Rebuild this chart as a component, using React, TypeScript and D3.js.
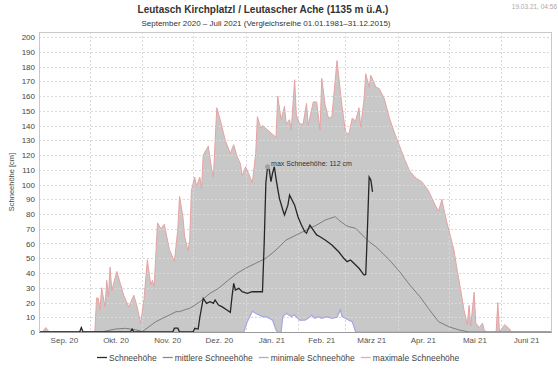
import React, { useRef, useEffect } from 'react';
import * as d3 from 'd3';

// values (cm)
const maxSnow: [string, number][] = [
  ["2020-09-01",0],["2020-09-03",0],["2020-09-05",3],["2020-09-07",0],["2020-10-04",0],["2020-10-05",23],["2020-10-06",23],
  ["2020-10-07",15],["2020-10-08",30],["2020-10-10",17],["2020-10-11",35],["2020-10-12",24],["2020-10-13",44],["2020-10-14",28],
  ["2020-10-16",37],["2020-10-17",41],["2020-10-19",33],["2020-10-21",25],["2020-10-24",17],["2020-10-27",25],["2020-10-29",17],
  ["2020-10-31",6],["2020-11-02",22],["2020-11-04",49],["2020-11-06",32],["2020-11-07",35],["2020-11-08",31],["2020-11-10",74],
  ["2020-11-12",70],["2020-11-14",73],["2020-11-17",56],["2020-11-20",48],["2020-11-22",70],["2020-11-23",92],["2020-11-25",78],
  ["2020-11-26",65],["2020-11-28",55],["2020-11-29",62],["2020-11-30",96],["2020-12-02",105],["2020-12-03",99],["2020-12-05",105],
  ["2020-12-06",97],["2020-12-07",120],["2020-12-09",124],["2020-12-10",126],["2020-12-12",110],["2020-12-13",105],["2020-12-15",152],
  ["2020-12-17",144],["2020-12-20",130],["2020-12-23",121],["2020-12-25",127],["2020-12-27",119],["2020-12-29",114],["2020-12-30",106],
  ["2021-01-01",112],["2021-01-03",107],["2021-01-05",101],["2021-01-07",121],["2021-01-08",146],["2021-01-10",138],["2021-01-11",140],
  ["2021-01-13",138],["2021-01-16",135],["2021-01-19",132],["2021-01-20",160],["2021-01-22",144],["2021-01-24",153],["2021-01-25",141],
  ["2021-01-27",144],["2021-01-28",137],["2021-01-30",171],["2021-01-31",147],["2021-02-02",141],["2021-02-04",141],["2021-02-06",155],
  ["2021-02-07",140],["2021-02-10",156],["2021-02-12",156],["2021-02-14",137],["2021-02-15",172],["2021-02-17",154],["2021-02-19",145],
  ["2021-02-21",146],["2021-02-24",184],["2021-02-27",153],["2021-03-01",136],["2021-03-03",134],["2021-03-05",145],["2021-03-07",143],
  ["2021-03-09",152],["2021-03-10",139],["2021-03-12",158],["2021-03-13",175],["2021-03-15",166],["2021-03-16",174],["2021-03-19",166],
  ["2021-03-21",165],["2021-03-24",158],["2021-03-27",145],["2021-03-30",135],["2021-04-03",123],["2021-04-05",117],["2021-04-08",109],
  ["2021-04-12",104],["2021-04-15",102],["2021-04-19",96],["2021-04-23",86],["2021-04-25",82],["2021-04-27",90],["2021-04-28",84],
  ["2021-04-30",74],["2021-05-02",65],["2021-05-04",56],["2021-05-06",42],["2021-05-08",29],["2021-05-10",15],["2021-05-12",5],
  ["2021-05-13",18],["2021-05-14",4],["2021-05-16",27],["2021-05-17",6],["2021-05-19",3],["2021-05-21",6],["2021-05-22",1],
  ["2021-05-24",0],["2021-05-29",0],["2021-05-30",20],["2021-05-31",0],["2021-06-03",5],["2021-06-04",4],["2021-06-06",2],
  ["2021-06-07",0],["2021-07-01",0]
];

const minSnow: [string, number][] = [
  ["2020-09-01",0],["2020-12-31",0],["2021-01-02",7],["2021-01-05",14],["2021-01-07",12.7],["2021-01-09",11.5],["2021-01-11",10.4],
  ["2021-01-13",10.4],["2021-01-15",9.3],["2021-01-17",8],["2021-01-19",1.4],["2021-01-20",0],["2021-01-22",0],["2021-01-23",10.4],
  ["2021-01-25",12.7],["2021-01-28",10.4],["2021-01-30",11.5],["2021-02-02",8],["2021-02-05",8],["2021-02-07",9.3],["2021-02-09",11.5],
  ["2021-02-11",9.3],["2021-02-13",10.4],["2021-02-15",9.3],["2021-02-18",10.4],["2021-02-21",9.3],["2021-02-24",10],["2021-02-26",15],
  ["2021-02-27",10.4],["2021-03-01",9.3],["2021-03-03",8],["2021-03-05",7],["2021-03-07",0],["2021-07-01",0]
];

const meanSnow: [string, number][] = [
  ["2020-09-01",0],["2020-10-08",0],["2020-10-12",1],["2020-10-16",2],["2020-10-22",2.5],["2020-10-28",1.5],["2020-11-01",0.3],
  ["2020-11-05",3.6],["2020-11-09",7],["2020-11-13",9.3],["2020-11-17",11.5],["2020-11-21",13.8],["2020-11-23",13.8],["2020-11-27",15.4],
  ["2020-11-29",16],["2020-12-05",20.5],["2020-12-11",26.2],["2020-12-16",29.6],["2020-12-22",35.3],["2020-12-27",39.8],["2021-01-01",43.2],
  ["2021-01-07",46.6],["2021-01-13",50],["2021-01-19",55.6],["2021-01-25",62.4],["2021-01-31",65.8],["2021-02-06",69.2],["2021-02-12",72.5],
  ["2021-02-17",75.9],["2021-02-23",78.2],["2021-02-25",75.9],["2021-03-01",72.5],["2021-03-03",71.4],["2021-03-07",70.3],["2021-03-09",68],
  ["2021-03-13",63.5],["2021-03-15",61.2],["2021-03-19",57.8],["2021-03-21",55.6],["2021-03-27",48.8],["2021-04-02",40.9],["2021-04-08",31.9],
  ["2021-04-14",23.9],["2021-04-19",16],["2021-04-25",7],["2021-05-01",3.6],["2021-05-07",1.4],["2021-05-13",0],["2021-07-01",0]
];

const snow: [string, number][] = [
  ["2020-09-01",0],["2020-09-25",0],["2020-09-26",3],["2020-09-27",0],["2020-10-25",0],["2020-10-26",2],["2020-10-27",0],
  ["2020-11-19",0],["2020-11-20",2.6],["2020-11-22",2.6],["2020-11-23",0],["2020-12-01",0],["2020-12-02",2.5],["2020-12-04",2],
  ["2020-12-05",10],["2020-12-07",22.8],["2020-12-09",19.4],["2020-12-11",20.5],["2020-12-13",19.4],["2020-12-14",21.7],["2020-12-16",18.3],
  ["2020-12-18",17.2],["2020-12-21",14.9],["2020-12-23",13.3],["2020-12-24",23.9],["2020-12-25",33],["2020-12-26",28.5],["2020-12-28",29.6],
  ["2020-12-30",27.3],["2021-01-02",26.2],["2021-01-05",27.3],["2021-01-08",27.3],["2021-01-11",27.3],["2021-01-12",60],["2021-01-13",101],
  ["2021-01-14",112],["2021-01-15",110],["2021-01-16",102],["2021-01-17",108],["2021-01-18",112],["2021-01-19",104],["2021-01-20",97],
  ["2021-01-21",90.6],["2021-01-23",82.7],["2021-01-24",79.3],["2021-01-26",86],["2021-01-27",92.9],["2021-01-30",86],["2021-02-01",78],
  ["2021-02-03",72.5],["2021-02-05",68],["2021-02-06",67],["2021-02-08",72.5],["2021-02-10",69],["2021-02-12",65.8],["2021-02-14",64.6],
  ["2021-02-17",62.4],["2021-02-21",59],["2021-02-25",54.4],["2021-02-28",50],["2021-03-02",47.7],["2021-03-04",48.8],["2021-03-06",46.6],
  ["2021-03-09",43.2],["2021-03-12",38.6],["2021-03-13",39],["2021-03-14",70],["2021-03-15",105],["2021-03-16",103],["2021-03-17",95]
];

const monthTicks = ["2020-09-01","2020-10-01","2020-11-01","2020-12-01","2021-01-01","2021-02-01","2021-03-01","2021-04-01","2021-05-01","2021-06-01","2021-07-01"];
const monthLabels = ["Sep. 20","Okt. 20","Nov. 20","Dez. 20","Jän. 21","Feb. 21","März 21","Apr. 21","Mai 21","Juni 21"];
const yTicks = d3.range(0, 201, 10);

const legendItems = [
  { label: "Schneehöhe", color: "#2b2b2b" },
  { label: "mittlere Schneehöhe", color: "#8a8a8a" },
  { label: "minimale Schneehöhe", color: "#a9a9e6" },
  { label: "maximale Schneehöhe", color: "#eaaaaa" },
];

const FONT = "'Liberation Sans', Arial, sans-serif";

const App = () => {
  const ref = useRef<SVGSVGElement>(null);

  useEffect(() => {
    if (!ref.current) return;
    const W = 558, H = 369;
    const left = 39, right = 552, top = 32, bottom = 332;
    const parse = d3.timeParse("%Y-%m-%d");

    const svg = d3.select(ref.current);
    svg.selectAll("*").remove();

    const x = d3.scaleTime()
      .domain([parse("2020-09-01")!, parse("2021-07-01")!])
      .range([left, right]);
    const y = d3.scaleLinear().domain([0, 200]).range([bottom, 37]);

    const toPts = (arr: [string, number][]) => arr.map(d => ({ date: parse(d[0])!, v: d[1] }));
    const maxP = toPts(maxSnow), minP = toPts(minSnow), meanP = toPts(meanSnow), snowP = toPts(snow);

    const area = d3.area<{ date: Date; v: number }>().x(d => x(d.date)).y0(y(0)).y1(d => y(d.v));
    const line = d3.line<{ date: Date; v: number }>().x(d => x(d.date)).y(d => y(d.v));

    svg.append("rect").attr("width", W).attr("height", H).attr("fill", "#fff");

    svg.append("path").attr("d", area(maxP)).attr("fill", "#c8c8c8");
    svg.append("path").attr("d", area(minP)).attr("fill", "#fff");

    // grid
    const grid = svg.append("g").attr("stroke", "#d9d9d9").attr("stroke-width", 1).attr("stroke-dasharray", "2,2");
    yTicks.forEach(t => {
      grid.append("line").attr("x1", left).attr("x2", right)
        .attr("y1", Math.round(y(t)) + 0.5).attr("y2", Math.round(y(t)) + 0.5);
    });
    monthTicks.slice(1, -1).forEach(m => {
      const xx = Math.round(x(parse(m)!)) + 0.5;
      grid.append("line").attr("x1", xx).attr("x2", xx).attr("y1", top).attr("y2", bottom);
    });

    svg.append("path").attr("d", line(maxP)).attr("fill", "none").attr("stroke", "#e6a3a3").attr("stroke-width", 1);
    svg.append("path").attr("d", line(minP)).attr("fill", "none").attr("stroke", "#a5a5e3").attr("stroke-width", 1.2);
    svg.append("path").attr("d", line(meanP)).attr("fill", "none").attr("stroke", "#7d7d7d").attr("stroke-width", 1);
    svg.append("path").attr("d", line(snowP)).attr("fill", "none").attr("stroke", "#262626").attr("stroke-width", 1.3);

    // frame
    svg.append("rect").attr("x", left + 0.5).attr("y", top + 0.5)
      .attr("width", right - left - 1).attr("height", bottom - top)
      .attr("fill", "none").attr("stroke", "#c8c8c8");
    svg.append("line").attr("x1", left).attr("x2", right).attr("y1", bottom + 0.5).attr("y2", bottom + 0.5)
      .attr("stroke", "#9a9a9a");

    // max annotation
    const peak = snowP.reduce((a, b) => (b.v > a.v ? b : a));
    svg.append("circle").attr("cx", x(peak.date)).attr("cy", y(peak.v)).attr("r", 2.5).attr("fill", "#a0a0a0");
    svg.append("text").attr("x", x(peak.date) + 3.5).attr("y", y(peak.v) - 0.5)
      .attr("font-family", FONT).attr("font-size", 7).attr("fill", "#333")
      .text(`max Schneehöhe: ${peak.v} cm`);

    // y axis labels
    const yl = svg.append("g").attr("font-family", FONT).attr("font-size", 8).attr("fill", "#444").attr("text-anchor", "end");
    yTicks.forEach(t => {
      yl.append("text").attr("x", 35).attr("y", y(t) + 3).text(t);
    });
    svg.append("text").attr("transform", `translate(14,${(top + bottom) / 2}) rotate(-90)`)
      .attr("text-anchor", "middle").attr("font-family", FONT).attr("font-size", 7.5).attr("fill", "#444")
      .text("Schneehöhe [cm]");

    // x labels centred in each month
    const xl = svg.append("g").attr("font-family", FONT).attr("font-size", 8).attr("fill", "#555").attr("text-anchor", "middle");
    monthLabels.forEach((lab, i) => {
      const a = x(parse(monthTicks[i])!), b = x(parse(monthTicks[i + 1])!);
      xl.append("text").attr("x", (a + b) / 2).attr("y", 343).text(lab);
    });

    // titles
    svg.append("text").attr("x", 263).attr("y", 13).attr("text-anchor", "middle")
      .attr("font-family", FONT).attr("font-weight", "bold").attr("font-size", 10).attr("fill", "#333")
      .text("Leutasch Kirchplatzl / Leutascher Ache (1135 m ü.A.)");
    svg.append("text").attr("x", 266).attr("y", 26).attr("text-anchor", "middle")
      .attr("font-family", FONT).attr("font-size", 8).attr("fill", "#333")
      .text("September 2020 – Juli 2021 (Vergleichsreihe 01.01.1981–31.12.2015)");
    svg.append("text").attr("x", 557).attr("y", 9).attr("text-anchor", "end")
      .attr("font-family", FONT).attr("font-size", 6.5).attr("fill", "#aaa")
      .text("19.03.21, 04:56");

    // legend
    let lx = 97;
    const lg = svg.append("g").attr("font-family", FONT).attr("font-size", 8.5).attr("fill", "#444");
    legendItems.forEach(it => {
      lg.append("line").attr("x1", lx).attr("x2", lx + 10).attr("y1", 357.5).attr("y2", 357.5)
        .attr("stroke", it.color).attr("stroke-width", 1.3);
      const t = lg.append("text").attr("x", lx + 12).attr("y", 360.5).text(it.label);
      const w = (t.node() as SVGTextElement).getComputedTextLength();
      lx += 12 + w + 6;
    });
  }, []);

  return (
    <svg ref={ref} width={558} height={369} style={{ position: 'absolute', left: 0, top: 0 }} />
  );
};

export default App;
